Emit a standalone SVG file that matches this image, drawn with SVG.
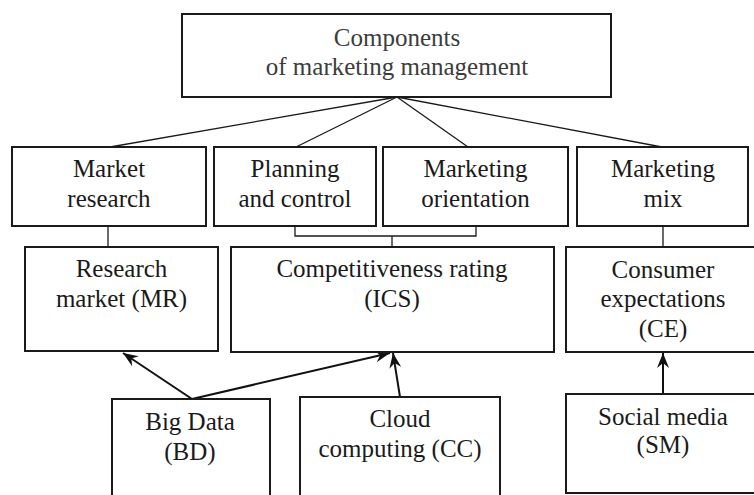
<svg xmlns="http://www.w3.org/2000/svg" width="754" height="495" viewBox="0 0 754 495" font-family="Liberation Serif, Times New Roman, serif">
<style>
.box{fill:#fff;stroke:#1a1a1a;stroke-width:2}
text{font-size:25px;fill:#1a1a1a;text-anchor:middle}
.tg{fill:#3c3c3c}
.ln{stroke:#1a1a1a;stroke-width:1.3;fill:none}
.ar{stroke:#111;stroke-width:2;fill:none;marker-end:url(#ah)}
</style>
<defs>
<marker id="ah" markerUnits="userSpaceOnUse" markerWidth="16" markerHeight="12" viewBox="0 0 16 12" refX="15" refY="6" orient="auto">
<path d="M0,0 L15,6 L0,12 L5,6 z" fill="#111"/>
</marker>
</defs>
<rect width="754" height="495" fill="#fff"/>
<g id="connectors">
<line class="ln" x1="397" y1="97" x2="110" y2="147"/>
<line class="ln" x1="397" y1="97" x2="296" y2="147"/>
<line class="ln" x1="397" y1="97" x2="468" y2="147"/>
<line class="ln" x1="397" y1="97" x2="662" y2="147"/>
<line class="ln" x1="108" y1="226" x2="108" y2="247"/>
<polyline class="ln" points="295,226 295,236 476,236 476,226"/>
<line class="ln" x1="392" y1="236" x2="392" y2="247"/>
<line class="ln" x1="663" y1="226" x2="663" y2="247"/>
<line class="ar" x1="192" y1="399" x2="123" y2="353"/>
<line class="ar" x1="192" y1="399" x2="390" y2="353"/>
<line class="ar" x1="400" y1="397" x2="393" y2="353"/>
<line class="ar" x1="663" y1="394" x2="663" y2="353"/>
</g>
<g id="n-components">
<rect class="box" x="182" y="14" width="429" height="83"/>
<text class="tg" x="397" y="46">Components</text>
<text class="tg" x="397" y="75">of marketing management</text>
</g>
<g id="n-market-research">
<rect class="box" x="12" y="147" width="194" height="79"/>
<text x="109" y="177">Market</text>
<text x="109" y="207">research</text>
</g>
<g id="n-planning">
<rect class="box" x="214" y="147" width="162" height="79"/>
<text x="295" y="177">Planning</text>
<text x="295" y="207">and control</text>
</g>
<g id="n-orientation">
<rect class="box" x="383" y="147" width="185" height="79"/>
<text x="475.5" y="177">Marketing</text>
<text x="475.5" y="207">orientation</text>
</g>
<g id="n-mix">
<rect class="box" x="577" y="147" width="171" height="79"/>
<text x="663" y="177">Marketing</text>
<text x="663" y="207">mix</text>
</g>
<g id="n-mr">
<rect class="box" x="25" y="247" width="193" height="104"/>
<text x="121.5" y="277">Research</text>
<text x="121.5" y="307">market (MR)</text>
</g>
<g id="n-ics">
<rect class="box" x="231" y="247" width="323" height="105"/>
<text x="392" y="277">Competitiveness rating</text>
<text x="392" y="307">(ICS)</text>
</g>
<g id="n-ce">
<rect class="box" x="566" y="247" width="200" height="105"/>
<text x="663" y="278">Consumer</text>
<text x="663" y="307">expectations</text>
<text x="663" y="337">(CE)</text>
</g>
<g id="n-bd">
<rect class="box" x="112" y="399" width="158" height="110"/>
<text x="190" y="430">Big Data</text>
<text x="190" y="460">(BD)</text>
</g>
<g id="n-cc">
<rect class="box" x="300" y="397" width="200" height="110"/>
<text x="400" y="427">Cloud</text>
<text x="400" y="457">computing (CC)</text>
</g>
<g id="n-sm">
<rect class="box" x="566" y="394" width="200" height="99"/>
<text x="663" y="425">Social media</text>
<text x="663" y="453">(SM)</text>
</g>
</svg>
